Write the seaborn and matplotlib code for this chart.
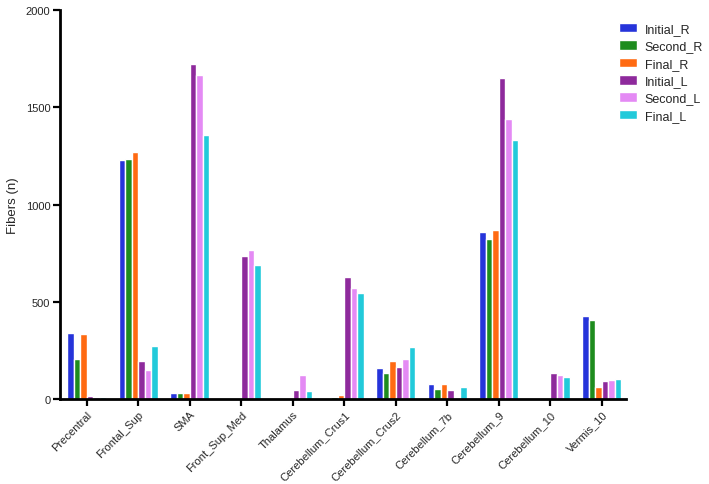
import matplotlib
matplotlib.use("Agg")
import matplotlib.pyplot as plt
import seaborn as sns
import pandas as pd

regions = ["Precentral", "Frontal_Sup", "SMA", "Front_Sup_Med", "Thalamus",
           "Cerebellum_Crus1", "Cerebellum_Crus2", "Cerebellum_7b",
           "Cerebellum_9", "Cerebellum_10", "Vermis_10"]
series = ["Initial_R", "Second_R", "Final_R", "Initial_L", "Second_L", "Final_L"]

initial_r = [338, 1227, 34, 0, 0, 0, 159, 79, 860, 0, 428]
second_r = [206, 1234, 32, 0, 0, 10, 135, 53, 823, 3, 405]
final_r = [334, 1270, 30, 0, 2, 20, 194, 79, 872, 5, 63]
initial_l = [14, 194, 1721, 734, 48, 629, 166, 45, 1649, 132, 91]
second_l = [10, 151, 1667, 765, 122, 569, 206, 0, 1441, 122, 98]
final_l = [12, 271, 1357, 690, 40, 547, 266, 62, 1330, 115, 101]

colors = ["#2634DA", "#1E8C1E", "#FF6A12", "#8E2A9C", "#E48AF4", "#22CADA"]

values = [initial_r, second_r, final_r, initial_l, second_l, final_l]
rows = []
for s, vals in zip(series, values):
    for r, v in zip(regions, vals):
        rows.append({"Region": r, "Series": s, "Fibers": v})
df = pd.DataFrame(rows)

sns.set_style("ticks")
plt.rcParams["font.family"] = ["Liberation Sans", "DejaVu Sans"]

fig = plt.figure(figsize=(7.09, 4.85), dpi=100)
ax = fig.add_axes([0.0846, 0.175, 0.7984, 0.802])

sns.barplot(data=df, x="Region", y="Fibers", hue="Series", order=regions,
            hue_order=series, palette=colors, width=0.76, gap=0.03,
            saturation=1, errorbar=None, ax=ax)

ax.set_xlim(-0.52, 10.47)
ax.set_ylim(0, 2000)
ax.set_yticks([0, 500, 1000, 1500, 2000])
ax.set_ylabel("Fibers (n)", fontsize=9.5)
ax.yaxis.set_label_coords(-0.072, 0.5)
ax.set_xlabel("")
for sp in ["top", "right"]:
    ax.spines[sp].set_visible(False)
for sp in ["left", "bottom"]:
    ax.spines[sp].set_linewidth(2)
    ax.spines[sp].set_color("black")
ax.tick_params(axis="both", width=1.6, length=5, labelsize=8, color="black", pad=2)
ax.set_xticks(range(len(regions)))
ax.set_xticklabels(regions, rotation=45, ha="right", rotation_mode="anchor")

leg = ax.legend(loc="upper left", bbox_to_anchor=(0.978, 0.98), frameon=False,
                fontsize=9, handlelength=1.45, handleheight=0.8,
                labelspacing=0.42, handletextpad=0.65, borderaxespad=0)

fig.savefig("out.png", dpi=100)
